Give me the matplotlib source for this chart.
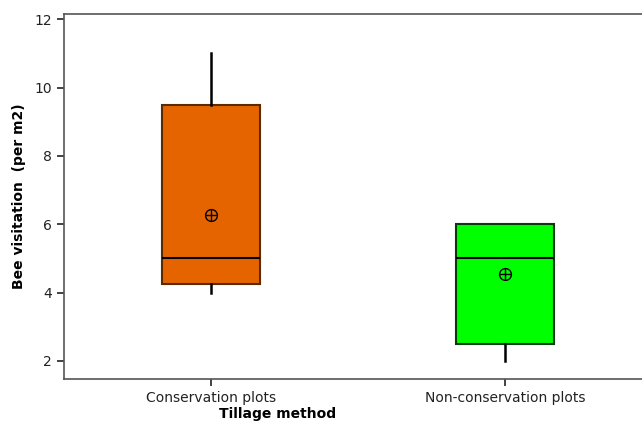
import matplotlib
matplotlib.use("Agg")
import matplotlib.pyplot as plt

# box statistics
groups = ["Conservation plots", "Non-conservation plots"]
whislo = [4.0, 2.0]
q1 = [4.25, 2.5]
med = [5.0, 5.0]
q3 = [9.5, 6.0]
whishi = [11.0, 6.0]
means = [6.28, 4.55]
fills = ["#E66400", "#00FF00"]
edges = ["#5A2A00", "#0A3A0A"]

stats = []
for i in range(len(groups)):
    stats.append({"label": groups[i], "whislo": whislo[i], "q1": q1[i],
                  "med": med[i], "q3": q3[i], "whishi": whishi[i],
                  "mean": means[i], "fliers": []})

fig = plt.figure(figsize=(6.42, 4.23), dpi=100)
ax = fig.add_axes([64 / 642, 44 / 423, (652 - 64) / 642, 365 / 423])

bp = ax.bxp(stats, positions=[1, 2], widths=0.333, patch_artist=True,
            showcaps=False, showmeans=False,
            medianprops=dict(color="black", linewidth=1.5),
            whiskerprops=dict(color="black", linewidth=1.8))
for patch, fc, ec in zip(bp["boxes"], fills, edges):
    patch.set_facecolor(fc)
    patch.set_edgecolor(ec)
    patch.set_linewidth(1.5)

# mean symbol: circle with a cross
ax.plot([1, 2], means, linestyle="none", marker="o", markersize=8.5,
        markerfacecolor="none", markeredgecolor="black", markeredgewidth=1)
ax.plot([1, 2], means, linestyle="none", marker="+", markersize=8.5,
        color="black", markeredgewidth=1)

ax.set_xlim(0.5, 2.5)
ax.set_ylim(1.47, 12.155)
ax.set_yticks([2, 4, 6, 8, 10, 12])
ax.set_xticks([1, 2])
ax.set_xticklabels(groups)
ax.tick_params(direction="out", length=5, width=1.2, labelsize=10, colors="#222222")

for s in ["left", "bottom", "top", "right"]:
    ax.spines[s].set_color("#555555")
    ax.spines[s].set_linewidth(1.2)

ax.set_ylabel("Bee visitation  (per m2)", fontsize=10, fontweight="bold", labelpad=6)
ax.set_xlabel("Tillage method", fontsize=10, fontweight="bold")
ax.xaxis.set_label_coords((278 - 64) / 588, -0.077)

fig.savefig("out.png", dpi=100)
